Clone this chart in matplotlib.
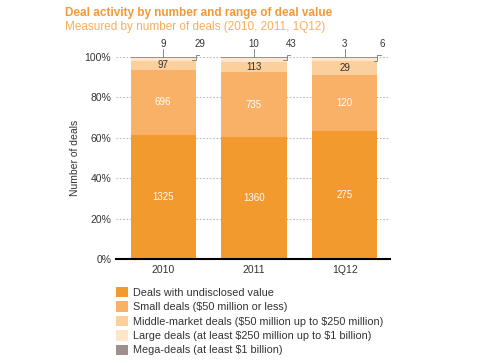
#按交易金额区间统计的交易数量堆叠柱状图
import numpy as np
import matplotlib
matplotlib.use('Agg')
import matplotlib.pyplot as plt

plt.rcParams['font.family'] = ['Liberation Sans', 'DejaVu Sans']

#数据
periods = ['2010', '2011', '1Q12']
undisclosed = [1325, 1360, 275]
small = [696, 735, 120]
middle = [97, 113, 29]
large = [29, 43, 6]
mega = [9, 10, 3]

names = ['Deals with undisclosed value',
         r'Small deals (\$50 million or less)',
         r'Middle-market deals (\$50 million up to \$250 million)',
         r'Large deals (at least \$250 million up to \$1 billion)',
         r'Mega-deals (at least \$1 billion)']
colors = ['#F39A2E', '#F8B166', '#FBD09C', '#FDE6CB', '#9C918D']

series = np.array([undisclosed, small, middle, large, mega], dtype=float)
total = series.sum(axis=0)
pct = series / total * 100

fig = plt.figure(figsize=(5, 3.63), dpi=100)
ax = fig.add_axes([0.232, 0.2865, 0.548, 0.5565])

x = np.arange(len(periods))
w = 0.72
bottom = np.zeros(len(periods))
for i in range(5):
    ax.bar(x, pct[i], w, bottom=bottom, color=colors[i], label=names[i], zorder=2)
    bottom += pct[i]

#柱内数字
cum = np.cumsum(pct, axis=0)
for j in range(len(periods)):
    c0 = pct[0][j] / 2
    ax.text(x[j], c0, str(undisclosed[j]), ha='center', va='center', color='white', fontsize=7, zorder=3)
    c1 = cum[0][j] + pct[1][j] / 2
    ax.text(x[j], c1, str(small[j]), ha='center', va='center', color='white', fontsize=7, zorder=3)
    c2 = cum[1][j] + pct[2][j] / 2
    ax.text(x[j], c2, str(middle[j]), ha='center', va='center', color='#333333', fontsize=7, zorder=3)
    #大额与超大额交易标注在柱顶上方
    ax.plot([x[j], x[j]], [cum[4][j], 104], color='#777777', lw=0.6, zorder=3, clip_on=False)
    ax.text(x[j], 104, str(mega[j]), ha='center', va='bottom', color='#333333', fontsize=7, clip_on=False)
    xr = x[j] + w / 2
    ax.plot([xr - 0.04, xr, xr, xr + 0.04], [cum[3][j] - 1.2, cum[3][j] - 1.2, 101, 101],
            color='#777777', lw=0.6, zorder=3, clip_on=False)
    ax.text(xr + 0.05, 104, str(large[j]), ha='center', va='bottom', color='#333333', fontsize=7, clip_on=False)

ax.set_xlim(-0.52, 2.5)
ax.set_ylim(0, 100)
ax.set_yticks([0, 20, 40, 60, 80, 100])
ax.set_yticklabels(['0%', '20%', '40%', '60%', '80%', '100%'])
ax.set_xticks(x)
ax.set_xticklabels(periods)
ax.tick_params(length=0, labelsize=7.5, colors='#333333')
ax.tick_params(axis='x', pad=4)
ax.grid(axis='y', linestyle=(0, (1.5, 1.5)), color='#BBBBBB', lw=0.8, zorder=0)
for s in ['top', 'right', 'left']:
    ax.spines[s].set_visible(False)
ax.spines['bottom'].set_color('black')
ax.spines['bottom'].set_linewidth(1.5)
ax.spines['bottom'].set_zorder(4)
ax.set_ylabel('Number of deals', fontsize=7.5, color='#333333', labelpad=3)

fig.text(0.13, 0.965, 'Deal activity by number and range of deal value', color='#F39A36',
         fontsize=8.5, fontweight='bold', va='center')
fig.text(0.13, 0.925, 'Measured by number of deals (2010, 2011, 1Q12)', color='#F6AE5E',
         fontsize=8.5, va='center')

h, l = ax.get_legend_handles_labels()
fig.legend(h, l, loc='upper left', bbox_to_anchor=(0.232, 0.21), frameon=False,
           fontsize=7.8, handlelength=1.1, handleheight=1.1, handletextpad=0.5,
           labelspacing=0.33, borderaxespad=0, borderpad=0, labelcolor='#333333')

plt.savefig('out.png', dpi=100)
